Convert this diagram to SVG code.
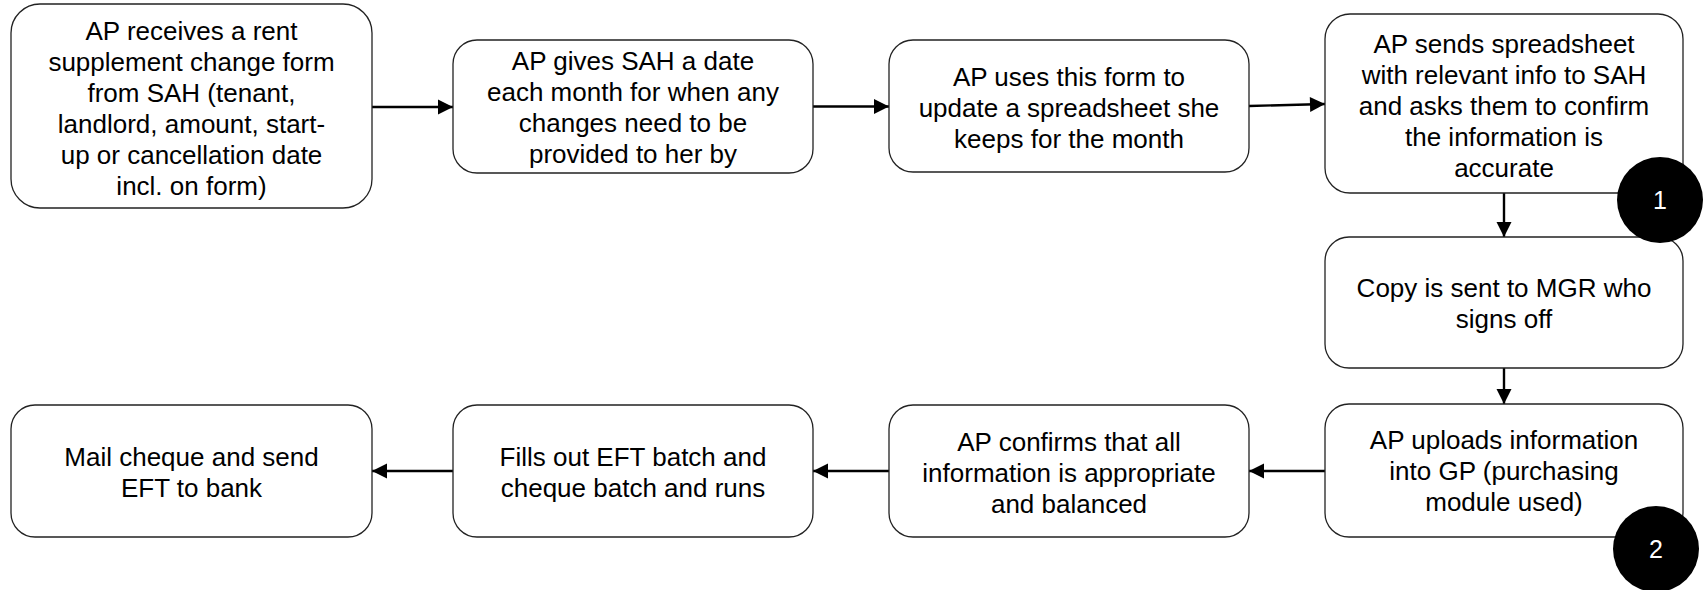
<svg xmlns="http://www.w3.org/2000/svg" width="1708" height="590" viewBox="0 0 1708 590">
<style>
.box{fill:#ffffff;stroke:#222222;stroke-width:1.3}
.t{font-family:"Liberation Sans",Arial,sans-serif;font-size:26px;fill:#000000;text-anchor:middle}
.bt{font-family:"Liberation Sans",Arial,sans-serif;font-size:25px;fill:#ffffff;text-anchor:middle}
.edge{fill:none;stroke:#000000;stroke-width:2.4}
.badge{fill:#000000}
</style>
<defs>
<marker id="arr" markerUnits="userSpaceOnUse" markerWidth="17" markerHeight="17" viewBox="0 0 17 17" refX="16" refY="8.5" orient="auto">
<path d="M1,1 L16,8.5 L1,16 Z" fill="#000000"/>
</marker>
</defs>
<rect width="1708" height="590" fill="#ffffff"/>
<g id="connectors">
<path class="edge" d="M372,107 L453,107" marker-end="url(#arr)"/>
<path class="edge" d="M813,106.5 L889,106.5" marker-end="url(#arr)"/>
<path class="edge" d="M1249,106 L1325,104" marker-end="url(#arr)"/>
<path class="edge" d="M1504,193 L1504,237" marker-end="url(#arr)"/>
<path class="edge" d="M1504,368 L1504,404" marker-end="url(#arr)"/>
<path class="edge" d="M1325,471 L1249,471" marker-end="url(#arr)"/>
<path class="edge" d="M889,471 L813,471" marker-end="url(#arr)"/>
<path class="edge" d="M453,471 L372,471" marker-end="url(#arr)"/>
</g>
<g id="n1">
<rect class="box" x="11" y="4" width="361" height="204" rx="29"/>
<text class="t"><tspan x="191.5" y="39.5">AP receives a rent</tspan><tspan x="191.5" y="70.5">supplement change form</tspan><tspan x="191.5" y="101.5">from SAH (tenant,</tspan><tspan x="191.5" y="132.5">landlord, amount, start-</tspan><tspan x="191.5" y="163.5">up or cancellation date</tspan><tspan x="191.5" y="194.5">incl. on form)</tspan></text>
</g>
<g id="n2">
<rect class="box" x="453" y="40" width="360" height="133" rx="24"/>
<text class="t"><tspan x="633" y="70">AP gives SAH a date</tspan><tspan x="633" y="101">each month for when any</tspan><tspan x="633" y="132">changes need to be</tspan><tspan x="633" y="163">provided to her by</tspan></text>
</g>
<g id="n3">
<rect class="box" x="889" y="40" width="360" height="132" rx="24"/>
<text class="t"><tspan x="1069" y="85.5">AP uses this form to</tspan><tspan x="1069" y="116.5">update a spreadsheet she</tspan><tspan x="1069" y="147.5">keeps for the month</tspan></text>
</g>
<g id="n4">
<rect class="box" x="1325" y="14" width="358" height="179" rx="25"/>
<text class="t"><tspan x="1504" y="52.5">AP sends spreadsheet</tspan><tspan x="1504" y="83.5">with relevant info to SAH</tspan><tspan x="1504" y="114.5">and asks them to confirm</tspan><tspan x="1504" y="145.5">the information is</tspan><tspan x="1504" y="176.5">accurate</tspan></text>
</g>
<g id="n5">
<rect class="box" x="1325" y="237" width="358" height="131" rx="24"/>
<text class="t"><tspan x="1504" y="297">Copy is sent to MGR who</tspan><tspan x="1504" y="328">signs off</tspan></text>
</g>
<g id="n6">
<rect class="box" x="1325" y="404" width="358" height="133" rx="24"/>
<text class="t"><tspan x="1504" y="449">AP uploads information</tspan><tspan x="1504" y="480">into GP (purchasing</tspan><tspan x="1504" y="511">module used)</tspan></text>
</g>
<g id="n7">
<rect class="box" x="889" y="405" width="360" height="132" rx="24"/>
<text class="t"><tspan x="1069" y="450.5">AP confirms that all</tspan><tspan x="1069" y="481.5">information is appropriate</tspan><tspan x="1069" y="512.5">and balanced</tspan></text>
</g>
<g id="n8">
<rect class="box" x="453" y="405" width="360" height="132" rx="24"/>
<text class="t"><tspan x="633" y="466">Fills out EFT batch and</tspan><tspan x="633" y="497">cheque batch and runs</tspan></text>
</g>
<g id="n9">
<rect class="box" x="11" y="405" width="361" height="132" rx="24"/>
<text class="t"><tspan x="191.5" y="466">Mail cheque and send</tspan><tspan x="191.5" y="497">EFT to bank</tspan></text>
</g>
<g id="badge1">
<circle class="badge" cx="1660" cy="200" r="43"/>
<text class="bt" x="1660" y="209">1</text>
</g>
<g id="badge2">
<circle class="badge" cx="1656" cy="549" r="43"/>
<text class="bt" x="1656" y="558">2</text>
</g>
</svg>
